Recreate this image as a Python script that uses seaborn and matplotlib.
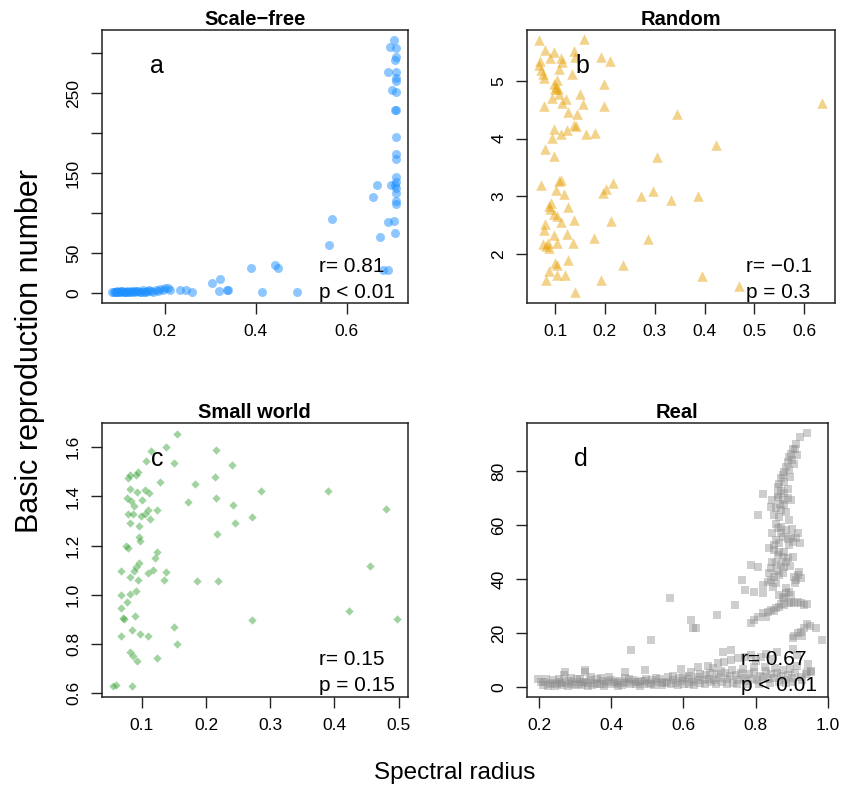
import matplotlib
matplotlib.use("Agg")
import matplotlib.pyplot as plt
import seaborn as sns

# panel a: scale-free
sf_x = [0.085, 0.088, 0.09, 0.093, 0.095, 0.098, 0.1, 0.103, 0.105, 0.107, 0.11, 0.113, 0.116,
        0.118, 0.12, 0.123, 0.126, 0.129, 0.132, 0.135, 0.138, 0.141, 0.145, 0.148, 0.152, 0.155,
        0.158, 0.162, 0.166, 0.17, 0.175, 0.18, 0.185, 0.19, 0.196, 0.2, 0.207, 0.212, 0.233,
        0.248, 0.261,
        0.305, 0.322, 0.32, 0.336, 0.339, 0.39, 0.413, 0.442, 0.45, 0.492, 0.561, 0.569,
        0.659, 0.667, 0.673, 0.68, 0.69,
        0.705, 0.696, 0.709, 0.709, 0.707, 0.691, 0.709, 0.708, 0.709, 0.70, 0.709, 0.707,
        0.709, 0.708, 0.708, 0.708, 0.708, 0.708, 0.707, 0.709, 0.709, 0.698, 0.709, 0.708,
        0.705, 0.69, 0.707]
sf_y = [1.0, 0.6, 1.5, 0.8, 2.0, 1.2, 0.5, 1.8, 1.0, 2.4, 1.3, 0.7, 1.6, 2.2, 0.9, 1.4, 2.8,
        1.1, 2.0, 0.6, 1.7, 2.4, 1.2, 0.8, 3.2, 1.5, 1.0, 2.6, 3.8, 2.0, 1.4, 3.0, 2.2, 4.5,
        3.2, 5.5, 6.5, 4.0, 4.0, 3.0, 1.0,
        12, 17, 2, 3, 3, 31, 1, 35, 31, 1, 60, 92,
        120, 135, 70, 29, 29,
        317, 308, 306, 295, 292, 277, 277, 269, 265, 254, 252, 229, 229, 195, 174, 167, 145,
        139, 135, 131, 125, 135, 115, 111, 90, 89, 75]

# panel b: random
rn_x = [0.067, 0.159, 0.079, 0.097, 0.09, 0.07, 0.067, 0.113, 0.114, 0.139, 0.14, 0.192, 0.21,
        0.107, 0.072, 0.075, 0.077, 0.135, 0.103, 0.098, 0.101, 0.105, 0.199, 0.1, 0.093,
        0.107, 0.123, 0.115, 0.15, 0.157, 0.077, 0.199, 0.127, 0.145, 0.139, 0.143, 0.125,
        0.097, 0.112, 0.093, 0.163, 0.181, 0.08, 0.097, 0.305, 0.345, 0.071, 0.107, 0.112,
        0.101, 0.119, 0.217, 0.203, 0.197, 0.273, 0.297, 0.332, 0.092, 0.088, 0.09, 0.127,
        0.097, 0.103, 0.08, 0.113, 0.139, 0.212, 0.077, 0.097, 0.125, 0.179, 0.287, 0.075,
        0.085, 0.087, 0.082, 0.103, 0.137, 0.127, 0.237, 0.1, 0.103, 0.087, 0.103, 0.12,
        0.081, 0.192, 0.14, 0.635, 0.422, 0.387, 0.395, 0.469]
rn_y = [5.70, 5.73, 5.54, 5.50, 5.40, 5.34, 5.28, 5.39, 5.33, 5.52, 5.41, 5.41, 5.34,
        5.21, 5.18, 5.11, 5.05, 5.11, 5.02, 4.95, 4.90, 4.85, 4.94, 4.85, 4.71,
        4.77, 4.68, 4.62, 4.77, 4.60, 4.57, 4.56, 4.46, 4.43, 4.24, 4.22, 4.14,
        4.17, 4.07, 4.01, 4.07, 4.10, 3.81, 3.70, 3.68, 4.43, 3.19, 3.27, 3.28,
        3.10, 3.03, 3.23, 3.13, 3.06, 3.00, 3.09, 2.94, 2.89, 2.83, 2.77, 2.81,
        2.70, 2.66, 2.51, 2.55, 2.58, 2.57, 2.41, 2.33, 2.35, 2.27, 2.25, 2.17,
        2.19, 2.11, 2.14, 2.19, 2.19, 1.90, 1.81, 1.85, 1.80, 1.71, 1.63, 1.63,
        1.54, 1.54, 1.34, 4.62, 3.89, 3.00, 1.62, 1.44]

# panel c: small world
sw_x = [0.155, 0.138, 0.114, 0.107, 0.15, 0.216, 0.241, 0.214, 0.183, 0.129, 0.094, 0.081,
        0.079, 0.091, 0.082, 0.105, 0.111, 0.092, 0.077, 0.083, 0.1, 0.087, 0.172, 0.215,
        0.242, 0.245, 0.217, 0.124, 0.11, 0.079, 0.086, 0.099, 0.105, 0.112, 0.082, 0.096,
        0.096, 0.097, 0.076, 0.079, 0.124, 0.12, 0.096, 0.091, 0.087, 0.068, 0.11, 0.117,
        0.137, 0.134, 0.081, 0.094, 0.186, 0.219, 0.091, 0.081, 0.067, 0.077, 0.068, 0.07,
        0.072, 0.09, 0.067, 0.084, 0.097, 0.11, 0.15, 0.155, 0.082, 0.086, 0.093, 0.124,
        0.055, 0.06, 0.084, 0.285, 0.39, 0.48, 0.272, 0.456, 0.272, 0.423, 0.497]
sw_y = [1.656, 1.60, 1.585, 1.544, 1.534, 1.588, 1.527, 1.479, 1.452, 1.459, 1.50, 1.487,
        1.476, 1.487, 1.432, 1.428, 1.414, 1.418, 1.395, 1.38, 1.385, 1.36, 1.377, 1.395,
        1.364, 1.29, 1.247, 1.344, 1.344, 1.328, 1.33, 1.32, 1.33, 1.31, 1.29, 1.279,
        1.233, 1.22, 1.197, 1.19, 1.174, 1.15, 1.13, 1.113, 1.097, 1.097, 1.09, 1.10,
        1.093, 1.06, 1.07, 1.06, 1.057, 1.057, 1.015, 1.002, 0.998, 0.97, 0.945, 0.905,
        0.902, 0.915, 0.832, 0.857, 0.84, 0.832, 0.87, 0.80, 0.766, 0.752, 0.73, 0.743,
        0.628, 0.632, 0.628, 1.42, 1.422, 1.347, 1.317, 1.116, 0.897, 0.935, 0.90]

# panel d: real networks
re_x = [0.198, 0.21, 0.215, 0.225, 0.235, 0.24, 0.25, 0.258, 0.265, 0.27, 0.275, 0.283, 0.29,
        0.297, 0.305, 0.31, 0.318, 0.325, 0.327, 0.333, 0.34, 0.348, 0.355, 0.362, 0.37, 0.378,
        0.385, 0.392, 0.4, 0.408, 0.415, 0.422, 0.43, 0.438, 0.445, 0.452, 0.46, 0.468, 0.475,
        0.483, 0.49, 0.497, 0.505, 0.512, 0.52, 0.527, 0.535, 0.542, 0.55, 0.557, 0.565, 0.572,
        0.58, 0.587, 0.595, 0.602, 0.61, 0.617, 0.625, 0.632, 0.64, 0.647, 0.655, 0.662, 0.67,
        0.677, 0.685, 0.692, 0.7, 0.707, 0.715, 0.722, 0.73, 0.737, 0.745, 0.752, 0.76, 0.767,
        0.775, 0.782, 0.79, 0.797, 0.805, 0.812, 0.82, 0.828, 0.835, 0.843, 0.85, 0.86, 0.87,
        0.88, 0.89, 0.9, 0.91, 0.925, 0.94, 0.955,
        0.205, 0.22, 0.23, 0.245, 0.255, 0.262, 0.28, 0.288, 0.3, 0.313, 0.32, 0.337, 0.345,
        0.36, 0.373, 0.38, 0.395, 0.41, 0.42, 0.435, 0.45, 0.465, 0.48, 0.495, 0.51, 0.525,
        0.54, 0.555, 0.57, 0.585, 0.6, 0.615, 0.63, 0.645, 0.66, 0.675, 0.69, 0.705, 0.72,
        0.735, 0.75, 0.765, 0.78, 0.795, 0.81, 0.825, 0.84, 0.855, 0.865, 0.875, 0.885, 0.895,
        0.905, 0.915, 0.93, 0.945, 0.905, 0.915,
        0.594, 0.622, 0.64, 0.668, 0.682, 0.695, 0.709, 0.714, 0.732, 0.732, 0.751, 0.771,
        0.788, 0.8, 0.815, 0.83, 0.843, 0.86,
        0.493, 0.438, 0.327, 0.272, 0.511, 0.454, 0.564, 0.622, 0.626, 0.636, 0.694, 0.742,
        0.771, 0.762, 0.795, 0.82, 0.788, 0.806, 0.82, 0.806,
        0.788, 0.797, 0.806, 0.82, 0.834, 0.843, 0.857, 0.866, 0.88, 0.893, 0.898, 0.907,
        0.917, 0.926, 0.935, 0.944,
        0.866, 0.875, 0.884, 0.893, 0.88, 0.898,
        0.82, 0.834, 0.843, 0.852, 0.857, 0.866, 0.875, 0.838, 0.907, 0.917, 0.912, 0.926,
        0.843, 0.857, 0.87, 0.875, 0.861, 0.889, 0.903, 0.847, 0.884,
        0.838, 0.852, 0.866, 0.875, 0.861, 0.847, 0.884, 0.87, 0.857, 0.898, 0.912, 0.903,
        0.917, 0.893, 0.88,
        0.847, 0.861, 0.875, 0.889, 0.898, 0.843, 0.857, 0.87, 0.884, 0.852, 0.866, 0.893, 0.88,
        0.944, 0.924, 0.912, 0.903, 0.898, 0.893, 0.889, 0.907, 0.884, 0.88, 0.875, 0.87,
        0.866, 0.861, 0.909, 0.893, 0.88, 0.87,
        0.944, 0.935, 0.926, 0.917, 0.907, 0.903, 0.967, 0.983, 0.93, 0.95,
        0.944, 0.953,
        0.862, 0.878, 0.868, 0.856, 0.872, 0.889, 0.85, 0.864, 0.878, 0.895, 0.86, 0.848,
        0.885, 0.872, 0.852, 0.83, 0.91, 0.92, 0.922, 0.9, 0.89, 0.895, 0.9, 0.915]
re_y = [2.9, 0.8, 1.8, 0.5, 1.5, 2.6, 1.0, 1.9, 0.7, 4.5, 1.4, 2.3, 0.9,
        1.7, 2.8, 1.1, 0.6, 2.0, 5.5, 1.3, 2.5, 0.8, 1.6, 3.0, 1.2, 2.1,
        0.9, 1.8, 2.7, 1.0, 1.5, 2.3, 0.7, 3.4, 1.9, 1.2, 2.6, 0.9, 1.7,
        2.2, 1.1, 3.1, 1.4, 2.4, 0.8, 1.9, 2.9, 1.3, 2.0, 3.5, 1.0, 2.5,
        1.6, 3.2, 2.1, 1.2, 2.8, 4.0, 1.8, 2.6, 3.8, 1.4, 2.4, 4.3, 3.0,
        1.7, 2.7, 4.6, 3.3, 2.0, 5.0, 2.9, 3.9, 1.6, 4.4, 2.6, 5.2, 3.4,
        2.2, 4.8, 3.0, 5.6, 2.5, 4.2, 3.6, 5.8, 2.8, 4.6, 3.3, 5.0, 3.9,
        2.7, 4.4, 3.2, 5.1, 3.7, 4.8, 6.0,
        2.0, 3.0, 1.0, 0.4, 2.8, 1.3, 0.5, 3.3, 0.6, 3.0, 1.8, 0.5, 3.6,
        0.9, 3.2, 0.4, 3.5, 2.0, 0.5, 1.3, 3.0, 1.8, 0.5, 2.1, 0.9, 3.4,
        0.6, 1.4, 3.9, 0.7, 3.6, 1.1, 0.6, 4.6, 1.0, 5.2, 1.2, 5.8, 1.0,
        6.3, 0.9, 6.8, 1.2, 7.2, 1.0, 7.5, 1.5, 7.0, 1.8, 6.2, 1.3, 6.8,
        2.0, 7.8, 2.5, 8.5, 14.0, 12.0,
        6.6, 5.7, 7.5, 7.9, 6.9, 8.8, 13.1, 9.4, 10.0, 13.7, 10.6, 11.2,
        11.9, 9.5, 11.0, 12.2, 10.5, 12.8,
        6.3, 5.7, 6.3, 5.7, 17.4, 13.7, 32.8, 24.8, 21.7, 21.7, 26.7, 30.4,
        35.9, 39.6, 35.3, 34.7, 45.2, 44.6, 71.7, 63.7,
        23.6, 24.8, 26.1, 27.3, 27.9, 28.5, 29.1, 29.8, 30.4, 31.0, 31.6, 31.2,
        31.6, 31.0, 30.4, 30.8,
        34.1, 33.5, 34.7, 35.3, 32.8, 34.1,
        37.8, 39.0, 39.6, 40.9, 38.4, 41.5, 42.1, 42.1, 40.9, 41.5, 39.6, 40.3,
        44.0, 45.8, 45.2, 48.3, 48.9, 47.7, 48.3, 46.4, 46.2,
        51.4, 50.8, 53.2, 55.7, 58.8, 56.9, 58.2, 59.4, 54.5, 55.7, 55.1, 53.8,
        56.9, 52.6, 50.2,
        69.3, 70.5, 69.3, 69.9, 69.3, 66.8, 66.2, 65.6, 64.9, 63.7, 63.1, 61.9, 67.5,
        94.2, 92.7, 90.2, 88.4, 86.5, 85.3, 83.5, 82.8, 81.6, 79.8, 78.5, 77.3,
        75.4, 74.2, 88.4, 80.5, 76.0, 72.5,
        23.3, 21.7, 20.5, 19.9, 18.9, 18.0, 21.7, 17.4, 19.0, 22.5,
        5.7, 5.7,
        71.0, 72.0, 68.0, 60.5, 57.0, 55.0, 52.5, 50.0, 44.5, 45.0, 42.8, 37.0,
        36.5, 30.8, 28.0, 26.0, 38.5, 42.5, 53.5, 58.5, 73.5, 78.0, 84.0, 86.0]

titles = ["Scale\u2212free", "Random", "Small world", "Real"]
letters = ["a", "b", "c", "d"]
r_text = ["r= 0.81", "r= \u22120.1", "r= 0.15", "r= 0.67"]
p_text = ["p < 0.01", "p = 0.3", "p = 0.15", "p < 0.01"]

sns.set_style("ticks")
plt.rcParams["font.family"] = ["Liberation Sans", "DejaVu Sans"]
plt.rcParams["text.color"] = "black"
plt.rcParams["xtick.color"] = "black"
plt.rcParams["ytick.color"] = "black"

fig = plt.figure(figsize=(8.42, 7.91), dpi=100)
axes = [fig.add_axes([0.121, 0.617, 0.363, 0.345]),
        fig.add_axes([0.626, 0.617, 0.366, 0.345]),
        fig.add_axes([0.121, 0.119, 0.363, 0.346]),
        fig.add_axes([0.626, 0.119, 0.357, 0.346])]

sns.scatterplot(x=sf_x, y=sf_y, ax=axes[0], marker="o", s=42, color="#1E90FF",
                alpha=0.5, linewidth=0)
sns.scatterplot(x=rn_x, y=rn_y, ax=axes[1], marker="^", s=58, color="#E69F00",
                alpha=0.45, linewidth=0)
sns.scatterplot(x=sw_x, y=sw_y, ax=axes[2], marker="D", s=18, color="#2E9E2E",
                alpha=0.45, linewidth=0)
sns.scatterplot(x=re_x, y=re_y, ax=axes[3], marker="s", s=34, color="#8C8C8C",
                alpha=0.42, linewidth=0)

axes[0].set_xlim(0.062, 0.734)
axes[0].set_ylim(-12.7, 329)
axes[0].set_xticks([0.2, 0.4, 0.6])
axes[0].set_yticks([0, 50, 100, 150, 200, 250, 300])
axes[0].set_yticklabels(["0", "50", "", "150", "", "250", ""])

axes[1].set_xlim(0.044, 0.662)
axes[1].set_ylim(1.15, 5.88)
axes[1].set_xticks([0.1, 0.2, 0.3, 0.4, 0.5, 0.6])
axes[1].set_yticks([2, 3, 4, 5])

axes[2].set_xlim(0.0377, 0.514)
axes[2].set_ylim(0.584, 1.698)
axes[2].set_xticks([0.1, 0.2, 0.3, 0.4, 0.5])
axes[2].set_yticks([0.6, 0.8, 1.0, 1.2, 1.4, 1.6])
axes[2].set_yticklabels(["0.6", "0.8", "1.0", "1.2", "1.4", "1.6"])

axes[3].set_xlim(0.167, 0.999)
axes[3].set_ylim(-3.7, 97.8)
axes[3].set_xticks([0.2, 0.4, 0.6, 0.8, 1.0])
axes[3].set_xticklabels(["0.2", "0.4", "0.6", "0.8", "1.0"])
axes[3].set_yticks([0, 20, 40, 60, 80])

for i, ax in enumerate(axes):
    for sp in ax.spines.values():
        sp.set_visible(True)
        sp.set_linewidth(1.1)
        sp.set_color("#222222")
    ax.tick_params(direction="out", length=8, width=1, labelsize=12.5, pad=7,
                   color="#222222", labelcolor="black")
    ax.tick_params(axis="y", labelrotation=90)
    for lbl in ax.get_yticklabels():
        lbl.set_va("center")
    ax.set_title(titles[i], fontsize=14.5, fontweight="bold", pad=4, color="black")
    ax.text(0.18, 0.87, letters[i], transform=ax.transAxes, fontsize=18,
            ha="center", va="center")
    ax.text(0.71, 0.135, r_text[i], transform=ax.transAxes, fontsize=15,
            ha="left", va="center")
    ax.text(0.71, 0.04, p_text[i], transform=ax.transAxes, fontsize=15,
            ha="left", va="center")
    ax.set_xlabel("")
    ax.set_ylabel("")

fig.text(0.036, 0.556, "Basic reproduction number", rotation=90, fontsize=22,
         ha="center", va="center")
fig.text(0.54, 0.023, "Spectral radius", fontsize=17.5, ha="center", va="center")

fig.savefig("out.png", dpi=100)
